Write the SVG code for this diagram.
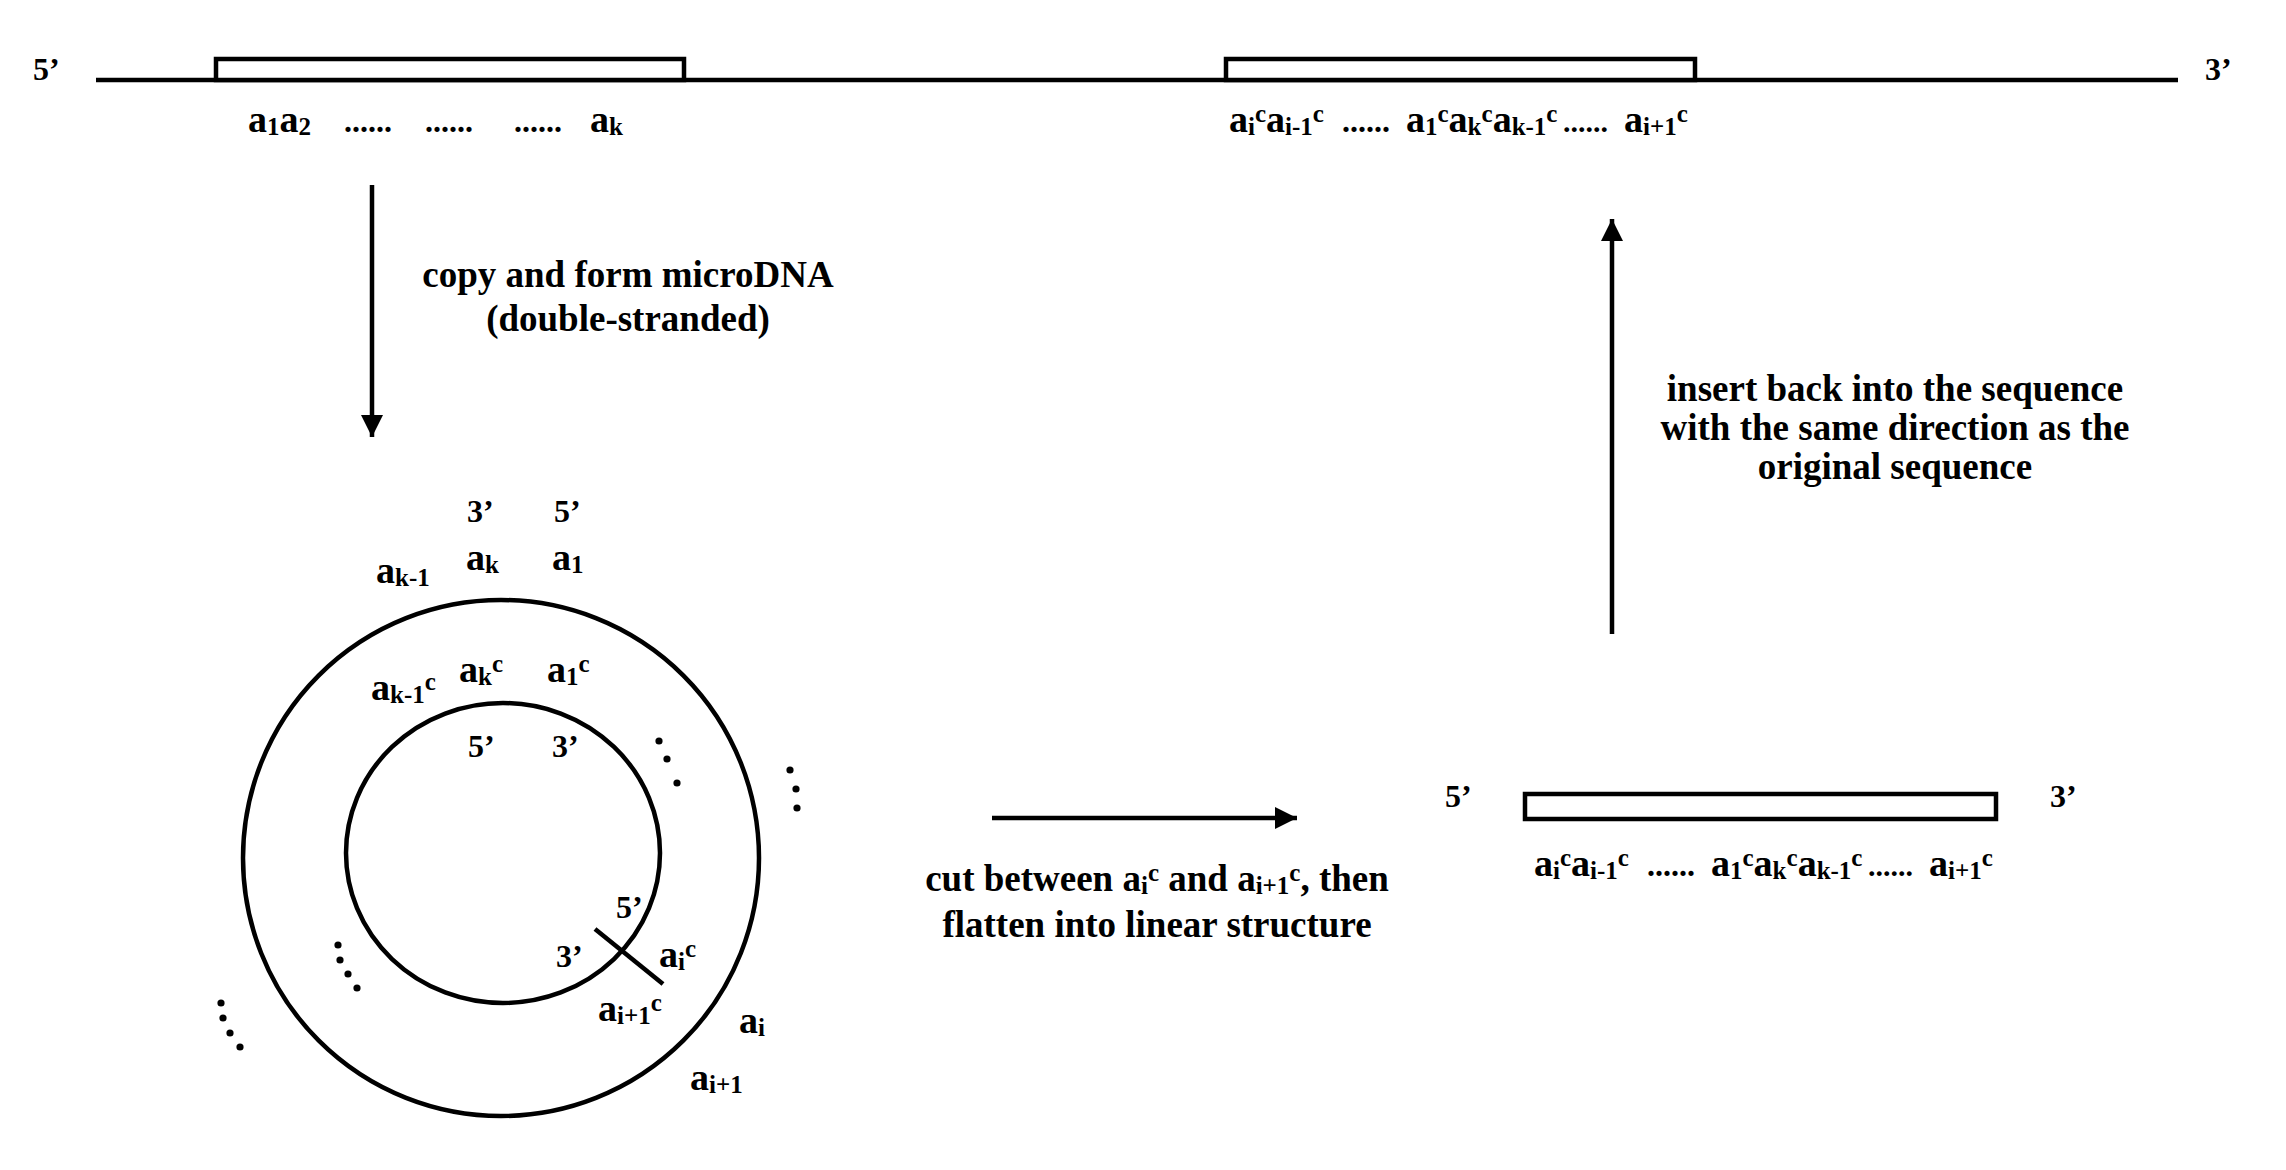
<svg xmlns="http://www.w3.org/2000/svg" width="2286" height="1170" viewBox="0 0 2286 1170">
<defs>
<style>
.t{font-family:"Liberation Serif","Times New Roman",serif;font-weight:bold;fill:#000}
.m{font-size:37px}
.p{font-size:32px}
.a{font-size:38px}
.s{font-size:25px}
.d{font-size:32px}
.d2{font-size:30px}
.ln{stroke:#000;stroke-width:4.5;fill:none}
.box{stroke:#000;stroke-width:4.5;fill:#fff}
.dot{fill:#000}
</style>
<marker id="ah" markerUnits="userSpaceOnUse" markerWidth="24" markerHeight="24" refX="22" refY="11" orient="auto">
<path d="M0,0 L22,11 L0,22 Z" fill="#000"/>
</marker>
</defs>
<rect width="2286" height="1170" fill="#fff"/>

<g id="genome">
<line class="ln" x1="96" y1="80" x2="2178" y2="80"/>
<rect class="box" x="216" y="59" width="468" height="21"/>
<rect class="box" x="1226" y="59" width="469" height="21"/>
<text class="t p" x="33" y="80">5’</text>
<text class="t p" x="2205" y="80">3’</text>
</g>

<g id="label-original">
<text class="t a" x="248" y="132">a<tspan class="s" y="135">1</tspan><tspan y="132">a</tspan><tspan class="s" y="135">2</tspan></text>
<text class="t d" x="344" y="132">......</text>
<text class="t d" x="425" y="132">......</text>
<text class="t d" x="514" y="132">......</text>
<text class="t a" x="590" y="132">a<tspan class="s" y="135">k</tspan></text>
</g>

<g id="label-inserted" transform="translate(-305,132)">
<text class="t a" x="1534" y="0">a<tspan class="s" y="3">i</tspan><tspan class="s" y="-10">c</tspan><tspan y="0">a</tspan><tspan class="s" y="3">i-1</tspan><tspan class="s" y="-10">c</tspan></text>
<text class="t d" x="1647" y="0">......</text>
<text class="t a" x="1711" y="0">a<tspan class="s" y="3">1</tspan><tspan class="s" y="-10">c</tspan><tspan y="0">a</tspan><tspan class="s" y="3">k</tspan><tspan class="s" y="-10">c</tspan><tspan y="0">a</tspan><tspan class="s" y="3">k-1</tspan><tspan class="s" y="-10">c</tspan></text>
<text class="t d2" x="1868" y="0">......</text>
<text class="t a" x="1929" y="0">a<tspan class="s" y="3">i+1</tspan><tspan class="s" y="-10">c</tspan></text>
</g>

<g id="microdna">
<circle class="ln" cx="501" cy="858" r="258"/>
<ellipse class="ln" cx="503" cy="853" rx="157" ry="150"/>
<line class="ln" x1="595" y1="929" x2="663" y2="984"/>
<text class="t p" x="467" y="522">3’</text>
<text class="t p" x="554" y="522">5’</text>
<text class="t a" x="466" y="570">a<tspan class="s" y="573">k</tspan></text>
<text class="t a" x="552" y="570">a<tspan class="s" y="573">1</tspan></text>
<text class="t a" x="376" y="583">a<tspan class="s" y="586">k-1</tspan></text>
<text class="t a" x="459" y="682">a<tspan class="s" y="685">k</tspan><tspan class="s" y="672">c</tspan></text>
<text class="t a" x="547" y="682">a<tspan class="s" y="685">1</tspan><tspan class="s" y="672">c</tspan></text>
<text class="t a" x="371" y="700">a<tspan class="s" y="703">k-1</tspan><tspan class="s" y="690">c</tspan></text>
<text class="t p" x="468" y="757">5’</text>
<text class="t p" x="552" y="757">3’</text>
<text class="t p" x="616" y="918">5’</text>
<text class="t p" x="556" y="967">3’</text>
<text class="t a" x="659" y="967">a<tspan class="s" y="970">i</tspan><tspan class="s" y="957">c</tspan></text>
<text class="t a" x="598" y="1021">a<tspan class="s" y="1024">i+1</tspan><tspan class="s" y="1011">c</tspan></text>
<text class="t a" x="739" y="1033">a<tspan class="s" y="1036">i</tspan></text>
<text class="t a" x="690" y="1090">a<tspan class="s" y="1093">i+1</tspan></text>
<circle class="dot" cx="659" cy="741" r="3.6"/>
<circle class="dot" cx="667" cy="759" r="3.6"/>
<circle class="dot" cx="677" cy="783" r="3.6"/>
<circle class="dot" cx="790" cy="770" r="3.6"/>
<circle class="dot" cx="796" cy="789" r="3.6"/>
<circle class="dot" cx="797" cy="808" r="3.6"/>
<circle class="dot" cx="338" cy="945" r="3.6"/>
<circle class="dot" cx="340" cy="960" r="3.6"/>
<circle class="dot" cx="348" cy="974" r="3.6"/>
<circle class="dot" cx="357" cy="988" r="3.6"/>
<circle class="dot" cx="221" cy="1003" r="3.6"/>
<circle class="dot" cx="223" cy="1018" r="3.6"/>
<circle class="dot" cx="230" cy="1033" r="3.6"/>
<circle class="dot" cx="240" cy="1047" r="3.6"/>
</g>

<g id="linear">
<rect class="box" x="1525" y="794" width="471" height="25"/>
<text class="t p" x="1445" y="807">5’</text>
<text class="t p" x="2050" y="807">3’</text>
</g>

<g id="label-linear" transform="translate(0,876)">
<text class="t a" x="1534" y="0">a<tspan class="s" y="3">i</tspan><tspan class="s" y="-10">c</tspan><tspan y="0">a</tspan><tspan class="s" y="3">i-1</tspan><tspan class="s" y="-10">c</tspan></text>
<text class="t d" x="1647" y="0">......</text>
<text class="t a" x="1711" y="0">a<tspan class="s" y="3">1</tspan><tspan class="s" y="-10">c</tspan><tspan y="0">a</tspan><tspan class="s" y="3">k</tspan><tspan class="s" y="-10">c</tspan><tspan y="0">a</tspan><tspan class="s" y="3">k-1</tspan><tspan class="s" y="-10">c</tspan></text>
<text class="t d2" x="1868" y="0">......</text>
<text class="t a" x="1929" y="0">a<tspan class="s" y="3">i+1</tspan><tspan class="s" y="-10">c</tspan></text>
</g>

<g id="connectors">
<line class="ln" x1="372" y1="185" x2="372" y2="437" marker-end="url(#ah)"/>
<line class="ln" x1="992" y1="818" x2="1297" y2="818" marker-end="url(#ah)"/>
<line class="ln" x1="1612" y1="634" x2="1612" y2="219" marker-end="url(#ah)"/>
</g>

<g id="captions">
<text class="t m" text-anchor="middle" x="628" y="287">copy and form microDNA</text>
<text class="t m" text-anchor="middle" x="628" y="331">(double-stranded)</text>
<text class="t m" text-anchor="middle" x="1157" y="891">cut between a<tspan class="s" dy="3">i</tspan><tspan class="s" dy="-13">c</tspan><tspan dy="10"> and a</tspan><tspan class="s" dy="3">i+1</tspan><tspan class="s" dy="-13">c</tspan><tspan dy="10">, then</tspan></text>
<text class="t m" text-anchor="middle" x="1157" y="937">flatten into linear structure</text>
<text class="t m" text-anchor="middle" x="1895" y="401">insert back into the sequence</text>
<text class="t m" text-anchor="middle" x="1895" y="440">with the same direction as the</text>
<text class="t m" text-anchor="middle" x="1895" y="479">original sequence</text>
</g>
</svg>
